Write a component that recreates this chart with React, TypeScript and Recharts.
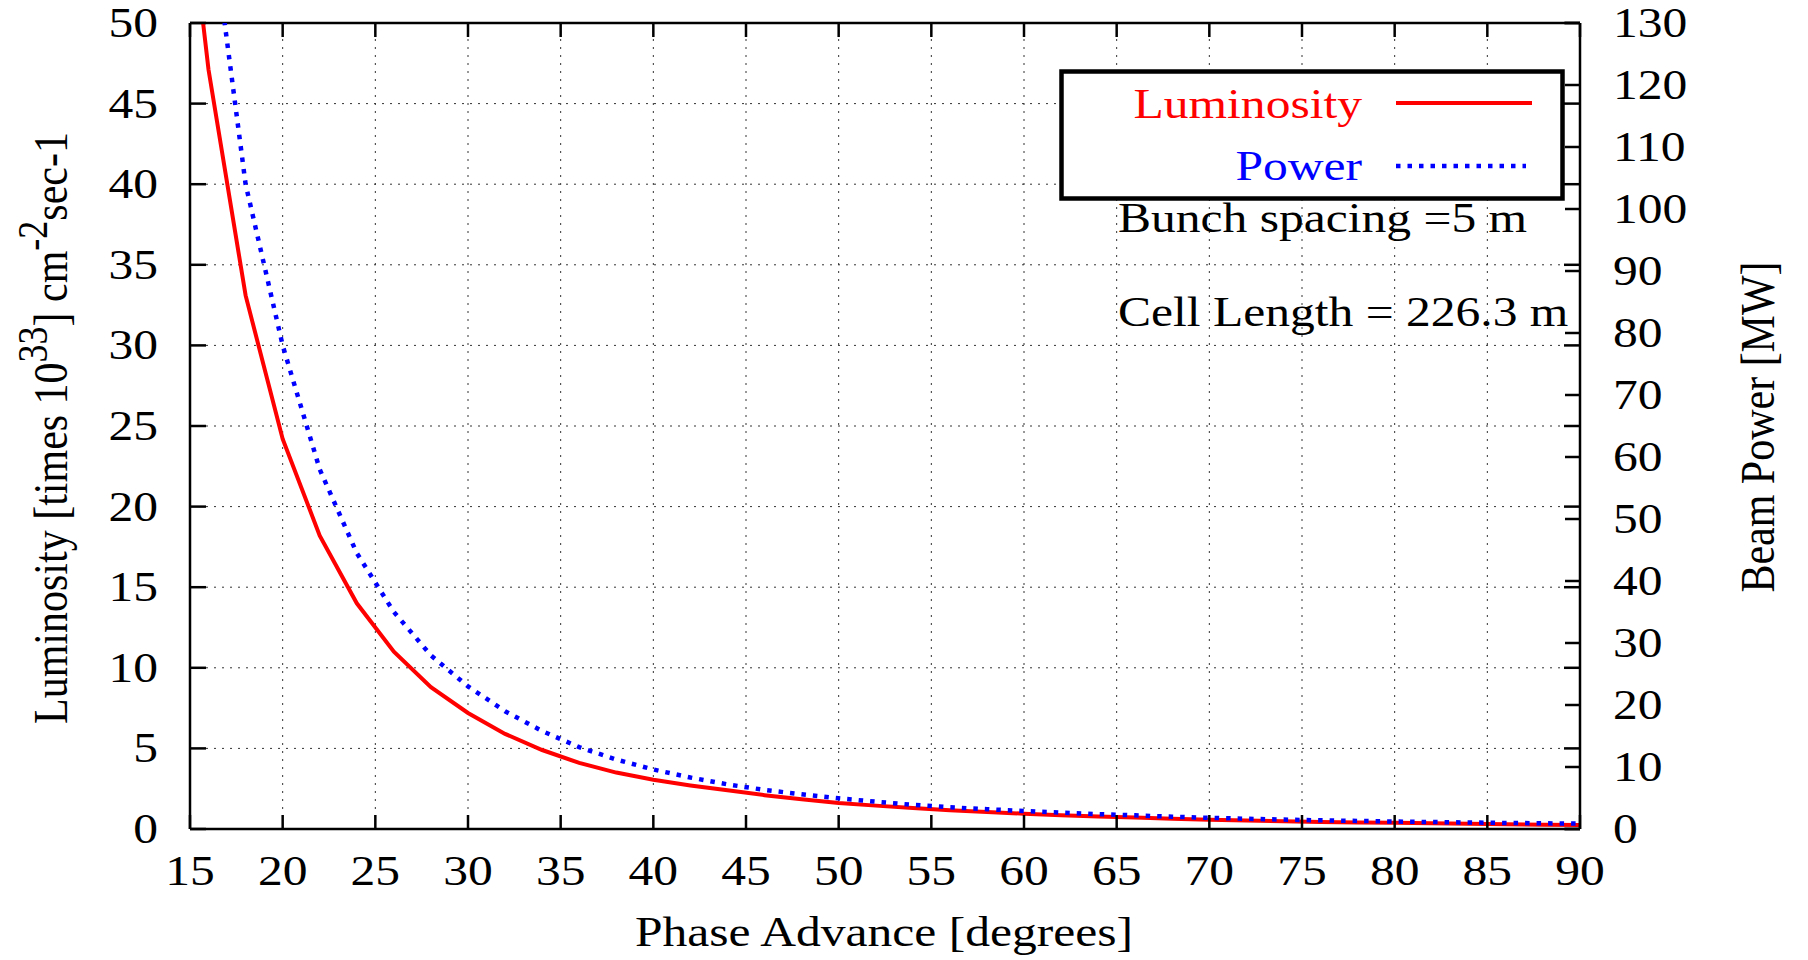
import React from 'react';
import { LineChart, Line, XAxis, YAxis, CartesianGrid, ReferenceLine, Legend } from 'recharts';

// phase advance in degrees
const phase = [15, 16, 18, 20, 22, 24, 26, 28, 30, 32, 34, 36, 38, 40, 42, 44, 46, 48, 50, 52, 54, 56, 58, 60, 62, 64, 66, 68, 70, 72, 74, 76, 78, 80, 82, 84, 86, 88, 90];
// luminosity, 10^33 cm^-2 s^-1
const luminosity = [57, 47.1, 33.1, 24.2, 18.2, 14.0, 11.0, 8.8, 7.2, 5.9, 4.9, 4.1, 3.5, 3.05, 2.7, 2.4, 2.1, 1.85, 1.62, 1.45, 1.3, 1.17, 1.05, 0.95, 0.86, 0.78, 0.71, 0.64, 0.58, 0.53, 0.48, 0.44, 0.41, 0.38, 0.35, 0.32, 0.3, 0.27, 0.25];
// beam power, MW
const power = [182, 150, 104, 78, 58, 44.5, 35, 28, 23, 19, 15.8, 13.2, 11.2, 9.6, 8.3, 7.2, 6.3, 5.6, 4.95, 4.4, 3.9, 3.5, 3.2, 2.9, 2.65, 2.4, 2.2, 1.98, 1.8, 1.65, 1.52, 1.4, 1.3, 1.2, 1.12, 1.05, 0.98, 0.92, 0.86];

const xTicks = [15, 20, 25, 30, 35, 40, 45, 50, 55, 60, 65, 70, 75, 80, 85, 90];
const leftTicks = [0, 5, 10, 15, 20, 25, 30, 35, 40, 45, 50];
const rightTicks = [0, 10, 20, 30, 40, 50, 60, 70, 80, 90, 100, 110, 120, 130];

const data = phase.map((p, i) => ({ phase: p, luminosity: luminosity[i], power: power[i] }));

const W = 1808;
const H = 960;
const TOP = 23;
const LEFT_W = 190;
const RIGHT_W = 228;
const BOTTOM_H = 131;
const PLOT_RIGHT = W - RIGHT_W;

const FONT = '"Liberation Serif", "Times New Roman", serif';
const FS = 42;
const SX = 1.18; // the original lettering is a bit wide
const AXIS = { stroke: '#000', strokeWidth: 2.5 };

const RED_W = 4;
const BLUE_W = 4.5;
const BLUE_DASH = '4.5 7';

const LeftTick = (props: any) => {
  const { x, y, payload } = props;
  return (
    <g>
      <line x1={x} x2={x + 16} y1={y} y2={y} {...AXIS} />
      <line x1={PLOT_RIGHT - 16} x2={PLOT_RIGHT} y1={y} y2={y} {...AXIS} />
      <text transform={`translate(${x - 32},${y + 14}) scale(${SX},1)`} textAnchor="end" fontSize={FS} fontFamily={FONT} fill="#000">
        {payload.value}
      </text>
    </g>
  );
};

const RightTick = (props: any) => {
  const { x, y, payload } = props;
  return (
    <g>
      <line x1={x - 15} x2={x} y1={y} y2={y} {...AXIS} />
      <text transform={`translate(${x + 33},${y + 14}) scale(${SX},1)`} textAnchor="start" fontSize={FS} fontFamily={FONT} fill="#000">
        {payload.value}
      </text>
    </g>
  );
};

const BottomTick = (props: any) => {
  const { x, y, payload } = props;
  return (
    <g>
      <line x1={x} x2={x} y1={y} y2={y - 14} {...AXIS} />
      <line x1={x} x2={x} y1={TOP} y2={TOP + 14} {...AXIS} />
      <text transform={`translate(${x},${y + 56}) scale(${SX},1)`} textAnchor="middle" fontSize={FS} fontFamily={FONT} fill="#000">
        {payload.value}
      </text>
    </g>
  );
};

const dashes: Record<string, string | undefined> = { luminosity: undefined, power: BLUE_DASH };
const widths: Record<string, number> = { luminosity: RED_W, power: BLUE_W };

const renderLegend = (props: any) => {
  const items = props.payload || [];
  return (
    <svg width={506} height={132} style={{ display: 'block' }}>
      <rect x={2.5} y={2.5} width={501} height={127} fill="#fff" stroke="#000" strokeWidth={4.5} />
      {items.map((it: any, i: number) => {
        const ty = i === 0 ? 49 : 111;
        const ly = i === 0 ? 34 : 97;
        return (
          <g key={it.value}>
            <text transform={`translate(303,${ty}) scale(${SX},1)`} textAnchor="end" fontSize={FS} fontFamily={FONT} fill={it.color}>
              {it.value}
            </text>
            <line x1={337} x2={i === 0 ? 473 : 467} y1={ly} y2={ly} stroke={it.color} strokeWidth={widths[it.dataKey]} strokeDasharray={dashes[it.dataKey]} />
          </g>
        );
      })}
    </svg>
  );
};

const App: React.FC = () => {
  return (
    <div style={{ position: 'absolute', left: 0, top: 0, width: W, height: H, background: '#fff' }}>
      <LineChart width={W} height={H} data={data} margin={{ top: TOP, right: 0, bottom: 0, left: 0 }}>
        <CartesianGrid yAxisId="left" stroke="#333" strokeDasharray="2 6" strokeWidth={1} />
        <XAxis
          dataKey="phase"
          type="number"
          domain={[15, 90]}
          ticks={xTicks}
          allowDataOverflow
          height={BOTTOM_H}
          axisLine={AXIS}
          tickLine={false}
          tickSize={0}
          tickMargin={0}
          tick={<BottomTick />}
          interval={0}
        />
        <YAxis
          yAxisId="left"
          domain={[0, 50]}
          ticks={leftTicks}
          allowDataOverflow
          width={LEFT_W}
          axisLine={AXIS}
          tickLine={false}
          tickSize={0}
          tickMargin={0}
          tick={<LeftTick />}
          interval={0}
        />
        <YAxis
          yAxisId="right"
          orientation="right"
          domain={[0, 130]}
          ticks={rightTicks}
          allowDataOverflow
          width={RIGHT_W}
          axisLine={AXIS}
          tickLine={false}
          tickSize={0}
          tickMargin={0}
          tick={<RightTick />}
          interval={0}
        />
        <ReferenceLine yAxisId="left" y={50} stroke="#000" strokeWidth={2.5} />
        <Legend
          layout="vertical"
          align="center"
          verticalAlign="middle"
          content={renderLegend}
          wrapperStyle={{ left: 1059, top: 69, width: 506, height: 132 }}
        />
        <Line yAxisId="left" dataKey="luminosity" name="Luminosity" type="linear" stroke="#ff0000" strokeWidth={RED_W} dot={false} isAnimationActive={false} />
        <Line yAxisId="right" dataKey="power" name="Power" type="linear" stroke="#0000ff" strokeWidth={BLUE_W} strokeDasharray={BLUE_DASH} dot={false} isAnimationActive={false} />
      </LineChart>
      <svg width={W} height={H} style={{ position: 'absolute', left: 0, top: 0, pointerEvents: 'none' }}>
        <g fontFamily={FONT} fontSize={FS} fill="#000">
          <text transform={`translate(884,946) scale(${SX},1)`} textAnchor="middle">Phase Advance [degrees]</text>
          <text transform={`translate(67,428) scale(${SX},1) rotate(-90)`} textAnchor="middle">
            Luminosity [times 10<tspan dy={-17} fontSize={36}>33</tspan>
            <tspan dy={17}>] cm</tspan>
            <tspan dy={-17} fontSize={36}>-2</tspan>
            <tspan dy={17}>sec-1</tspan>
          </text>
          <text transform={`translate(1774,427) scale(${SX},1) rotate(-90)`} textAnchor="middle">Beam Power [MW]</text>
          <text transform={`translate(1118,232) scale(${SX},1)`}>Bunch spacing =5 m</text>
          <text transform={`translate(1118,326) scale(${SX},1)`}>Cell Length = 226.3 m</text>
        </g>
      </svg>
    </div>
  );
};

export default App;
